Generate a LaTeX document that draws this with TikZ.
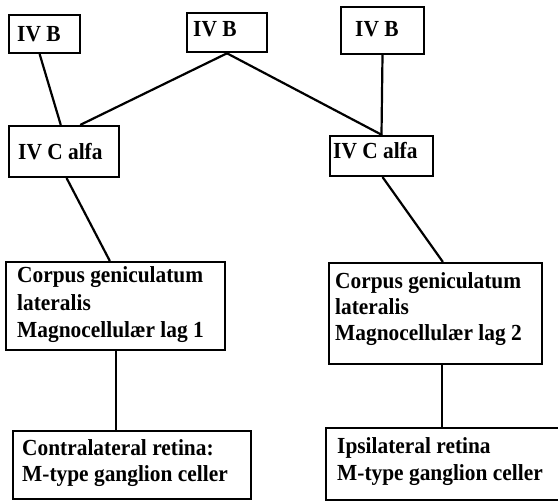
\documentclass[tikz,border=0pt]{standalone}
\usepackage{fontspec}
\setmainfont{Liberation Serif}
\newfontfamily\lblfont{Liberation Serif}[FakeStretch=0.93]
\begin{document}
\begin{tikzpicture}[x=1pt,y=-1pt,
  box/.style={draw=black,line width=2.6pt,rectangle,inner sep=0pt},
  lbl/.style={inner sep=0pt,anchor=base west,font=\lblfont\bfseries\fontsize{23}{27}\selectfont},
  link/.style={line width=2.2pt,line cap=round}]
\useasboundingbox (0,0) rectangle (558,503);
\fill[white] (0,0) rectangle (558,503);
\clip (0,0) rectangle (558,503);

% boxes
\node[box,minimum width=71pt,minimum height=38pt]  (A) at (44.5,34)   {};
\node[box,minimum width=80pt,minimum height=39pt]  (B) at (227,32.5)  {};
\node[box,minimum width=83pt,minimum height=47pt]  (C) at (382.5,30.5){};
\node[box,minimum width=110pt,minimum height=51pt] (D) at (64,151.5)  {};
\node[box,minimum width=103pt,minimum height=40pt] (E) at (381.5,156) {};
\node[box,minimum width=219pt,minimum height=88pt] (F) at (115.5,306) {};
\node[box,minimum width=213pt,minimum height=101pt](G) at (435.5,313.5){};
\node[box,minimum width=238pt,minimum height=68pt] (H) at (132,465)   {};
\node[box,minimum width=249pt,minimum height=72pt] (I) at (450.5,464) {};

% labels
\node[lbl] (tA) at (17,42)  {IV B};
\node[lbl] (tB) at (193,37) {IV B};
\node[lbl] (tC) at (355,37) {IV B};
\node[lbl] (tD) at (18,160) {IV C alfa};
\node[lbl] (tE) at (333,159){IV C alfa};
\node[lbl] (tF1) at (17,283) {Corpus geniculatum};
\node[lbl] (tF2) at (17,310) {lateralis};
\node[lbl] (tF3) at (17,337) {Magnocellulær lag 1};
\node[lbl] (tG1) at (335,288) {Corpus geniculatum};
\node[lbl] (tG2) at (335,314) {lateralis};
\node[lbl] (tG3) at (335,340) {Magnocellulær lag 2};
\node[lbl] (tH1) at (22,455) {Contralateral retina:};
\node[lbl] (tH2) at (22,481) {M-type ganglion celler};
\node[lbl] (tI1) at (337,453) {Ipsilateral retina};
\node[lbl] (tI2) at (337,480) {M-type ganglion celler};

% connectors
\draw[link] ([xshift=32pt]A.south west) -- ([xshift=53pt]D.north west);
\draw[link] (B.south) -- ([xshift=73pt]D.north west);
\draw[link] (B.south) -- (E.north);
\draw[link] (C.south) -- (E.north);
\draw[link] ([xshift=59pt]D.south west) -- ([xshift=105pt]F.north west);
\draw[link] ([xshift=54pt]E.south west) -- ([xshift=115pt]G.north west);
\draw[link] ([xshift=111pt]F.south west) -- ([xshift=104pt]H.north west);
\draw[link] ([xshift=114pt]G.south west) -- ([xshift=117pt]I.north west);
\end{tikzpicture}
\end{document}
